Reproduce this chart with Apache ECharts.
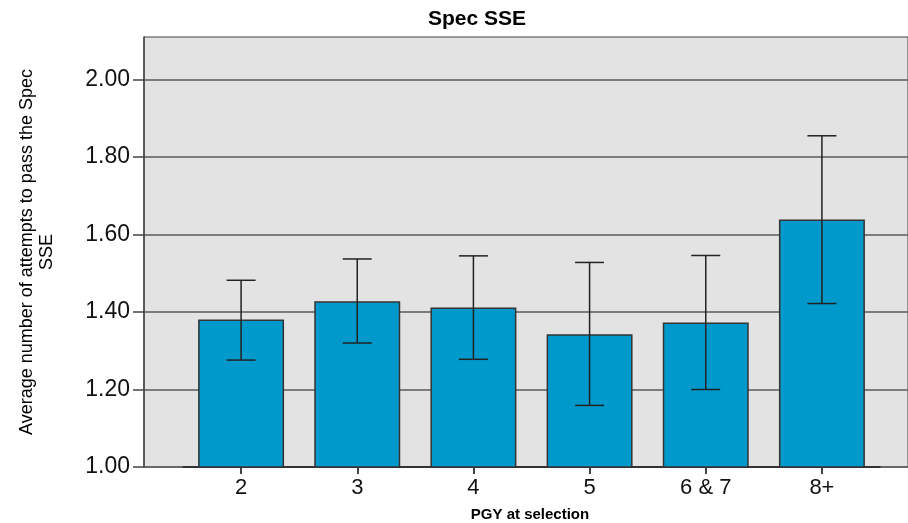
<!DOCTYPE html>
<html>
<head>
<meta charset="utf-8">
<script src="https://cdn.jsdelivr.net/npm/echarts@6/dist/echarts.min.js"></script>
<style>html,body{margin:0;padding:0;background:#fff}#c{width:908px;height:523px}</style>
</head>
<body>
<div id="c"></div>
<script>
var categories = ['2', '3', '4', '5', '6 & 7', '8+'];
var means = [1.381, 1.428, 1.412, 1.343, 1.373, 1.639];
var errLow = [1.276, 1.320, 1.278, 1.159, 1.200, 1.422];
var errHigh = [1.482, 1.537, 1.545, 1.528, 1.546, 1.855];
var yTicks = [1.0, 1.2, 1.4, 1.6, 1.8, 2.0];

var chart = echarts.init(document.getElementById('c'), null, {renderer: 'canvas'});
var FONT = 'Liberation Sans, Arial, sans-serif';
var yMin = 1, yMax = 2.11;
var errData = categories.map(function (c, i) { return [i, errLow[i], errHigh[i]]; });

chart.setOption({
  animation: false,
  backgroundColor: '#ffffff',
  graphic: [
    {type: 'text', x: 477, y: 19, style: {text: 'Spec SSE', font: 'bold 21px ' + FONT, fill: '#000', textAlign: 'center', textVerticalAlign: 'middle'}},
    {type: 'text', x: 530, y: 515, style: {text: 'PGY at selection', font: 'bold 15px ' + FONT, fill: '#000', textAlign: 'center', textVerticalAlign: 'middle'}},
    {type: 'text', x: 37, y: 252, rotation: Math.PI / 2, style: {text: 'Average number of attempts to pass the Spec\nSSE', font: '18px ' + FONT, fill: '#000', textAlign: 'center', textVerticalAlign: 'middle', lineHeight: 20}}
  ],
  grid: [
    {left: 144, top: 37, right: 0, bottom: 56, show: true, backgroundColor: '#e3e3e3', borderColor: '#444', borderWidth: 1},
    {left: 183, top: 37, right: 28, bottom: 56}
  ],
  xAxis: [
    {gridIndex: 0, type: 'value', min: 0, max: 1, show: false},
    {gridIndex: 1, type: 'category', data: categories,
     axisLine: {show: true, lineStyle: {color: '#222', width: 1.5}},
     axisTick: {show: true, alignWithLabel: true, length: 7, lineStyle: {color: '#444', width: 2}},
     axisLabel: {fontFamily: FONT, fontSize: 22, color: '#111', margin: 10}}
  ],
  yAxis: [
    {gridIndex: 0, type: 'value', min: yMin, max: yMax, interval: 0.2,
     axisLine: {show: true, lineStyle: {color: '#444', width: 1.5}},
     axisTick: {show: true, length: 11, lineStyle: {color: '#444', width: 1.5}, customValues: yTicks},
     axisLabel: {fontFamily: FONT, fontSize: 23, color: '#111', margin: 14, customValues: yTicks,
                 formatter: function (v) { return v.toFixed(2); }},
     splitLine: {show: true, lineStyle: {color: '#5a5a5a', width: 1.5}}},
    {gridIndex: 1, type: 'value', min: yMin, max: yMax, show: false, splitLine: {show: false}}
  ],
  series: [
    {type: 'bar', xAxisIndex: 1, yAxisIndex: 1, data: means, barWidth: '74%',
     itemStyle: {color: '#0099cb', borderColor: '#333', borderWidth: 1.5}},
    {type: 'custom', xAxisIndex: 1, yAxisIndex: 1, data: errData, z: 10,
     renderItem: function (params, api) {
       var x = api.value(0);
       var lo = api.coord([x, api.value(1)]);
       var hi = api.coord([x, api.value(2)]);
       var hw = 14.5;
       var st = {stroke: '#222', lineWidth: 1.5};
       return {type: 'group', children: [
         {type: 'line', shape: {x1: hi[0], y1: hi[1], x2: lo[0], y2: lo[1]}, style: st},
         {type: 'line', shape: {x1: hi[0] - hw, y1: hi[1], x2: hi[0] + hw, y2: hi[1]}, style: st},
         {type: 'line', shape: {x1: lo[0] - hw, y1: lo[1], x2: lo[0] + hw, y2: lo[1]}, style: st}
       ]};
     }}
  ]
});
</script>
</body>
</html>
